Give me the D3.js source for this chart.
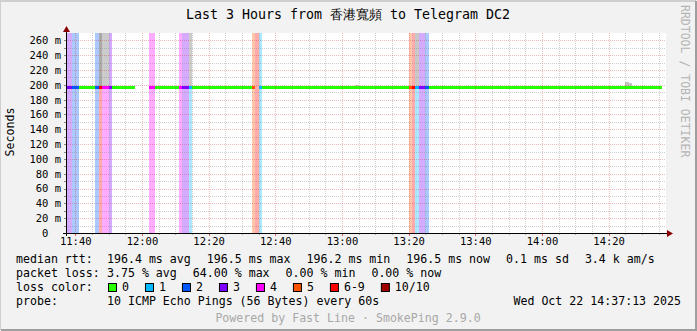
<!DOCTYPE html>
<html>
<head>
<meta charset="utf-8">
<script src="https://cdn.jsdelivr.net/npm/d3@7"></script>
<style>
  body { margin: 0; background: #f2f2f2; }
  text { font-family: "DejaVu Sans Mono", monospace; white-space: pre; }
</style>
</head>
<body>
<svg id="chart" width="697" height="331"></svg>
<script>
// --- data (one value per 60s step, first step starts 11:37) ---
var graphStart = new Date(2025, 9, 22, 11, 37, 13);
var graphEnd = new Date(2025, 9, 22, 14, 37, 13);
var firstStep = new Date(2025, 9, 22, 11, 37, 0);

var medianRtt = [
  196.3, 196.4, 196.5, 196.5, 196.5, 196.5, 196.4, 196.5, 196.5, 196.5, 196.4, 196.5, 196.5, 196.4, 196.5, 196.5, 196.5, 196.4, 196.4, 196.5,
  196.5, null,  null,  null,  null,  196.5, 196.5, 196.5, 196.4, 196.5, 196.4, 196.5, 196.5, 196.4, 196.5, 196.4, 196.4, 196.5, 196.5, 196.5,
  196.5, 196.5, 196.5, 196.5, 196.5, 196.5, 196.5, 196.5, 196.5, 196.5, 196.5, 196.5, 196.4, 196.5, 196.5, 196.5, 196.5, null,  196.5, 196.5,
  196.5, 196.5, 196.5, 196.5, 196.5, 196.5, 196.5, 196.5, 196.5, 196.5, 196.5, 196.5, 196.5, 196.5, 196.5, 196.5, 196.5, 196.5, 196.5, 196.5,
  196.5, 196.5, 196.5, 196.5, 196.5, 196.5, 196.5, 196.5, 196.2, 196.5, 196.5, 196.5, 196.5, 196.5, 196.5, 196.5, 196.5, 196.5, 196.5, 196.5,
  196.5, 196.5, 196.5, 196.5, 196.5, 196.5, 196.5, 196.5, 196.5, 196.5, 196.5, 196.5, 196.5, 196.5, 196.5, 196.5, 196.5, 196.5, 196.5, 196.5,
  196.5, 196.5, 196.5, 196.5, 196.2, 196.5, 196.5, 196.5, 196.5, 196.5, 196.5, 196.5, 196.5, 196.5, 196.5, 196.2, 196.5, 196.5, 196.5, 196.5,
  196.5, 196.5, 196.5, 196.5, 196.2, 196.5, 196.5, 196.5, 196.5, 196.5, 196.5, 196.5, 196.5, 196.5, 196.5, 196.5, 196.2, 196.5, 196.5, 196.5,
  196.2, 196.5, 196.5, 196.5, 196.2, 196.5, 196.5, 196.5, 196.5, 196.5, 196.5, 196.5, 196.5, 196.5, 196.5, 196.5, 196.5, 196.5, 196.5, null
];

// lost pings out of 10 for each step (null = no data)
var lossCount = [
  3, 3, 2, 2, 0, 0, 0, 0, 0, 2, 7, 4, 4, 3, 0, 0, 0, 0, 0, 0,
  0, null, null, null, null, 4, 4, 0, 0, 0, 0, 0, 0, 0, 4, 3, 3, 1, 0, 0,
  0, 0, 0, 0, 0, 0, 0, 0, 0, 0, 0, 0, 0, 0, 0, 0, 5, 7, 1, 0,
  0, 0, 0, 0, 0, 0, 0, 0, 0, 0, 0, 0, 0, 0, 0, 0, 0, 0, 0, 0,
  0, 0, 0, 0, 0, 0, 0, 0, 0, 0, 0, 0, 0, 0, 0, 0, 0, 0, 0, 0,
  0, 0, 0, 5, 7, 1, 3, 3, 2, 0, 0, 0, 0, 0, 0, 0, 0, 0, 0, 0,
  0, 0, 0, 0, 0, 0, 0, 0, 0, 0, 0, 0, 0, 0, 0, 0, 0, 0, 0, 0,
  0, 0, 0, 0, 0, 0, 0, 0, 0, 0, 0, 0, 0, 0, 0, 0, 0, 0, 0, 0,
  0, 0, 0, 0, 0, 0, 0, 0, 0, 0, 0, 0, 0, 0, 0, 0, 0, 0, 0, null
];

// smoke (spread of the single pings) where it is visible: step, low ms, high ms, shade
var smokeStep = [10, 11, 12, 37, 43, 44, 45, 87, 105, 168, 169];
var smokeLow  = [196.5, 196.5, 196.5, 196.5, 196.5, 196.5, 196.5, 196.5, 196.5, 196.5, 196.5];
var smokeHigh = [400, 400, 400, 400, 199, 199, 199, 199.5, 400, 204, 202];
var smokeShade = ['#a9a9a9', '#cbcbcb', '#cbcbcb', '#cbcbcb', '#cfcfcf', '#cfcfcf', '#cfcfcf', '#cfcfcf', '#c8c8c8', '#c4c4c4', '#c4c4c4'];

var yTicks = [0, 20, 40, 60, 80, 100, 120, 140, 160, 180, 200, 220, 240, 260];
var xTickLabels = ['11:40', '12:00', '12:20', '12:40', '13:00', '13:20', '13:40', '14:00', '14:20'];

var lossNames = ['0', '1', '2', '3', '4', '5', '6-9', '10/10'];
var lossColors = ['#26ff00', '#00b8ff', '#0059ff', '#7e00ff', '#ff00ff', '#ff5500', '#ff0000', '#a10000'];

var rttLegend = ['196.4 ms avg', '196.5 ms max', '196.2 ms min', '196.5 ms now', '0.1 ms sd', '3.4 k am/s'];
var lossLegend = ['3.75 % avg', '64.00 % max', '0.00 % min', '0.00 % now'];
var probeText = '10 ICMP Echo Pings (56 Bytes) every 60s';
var dateText = 'Wed Oct 22 14:37:13 2025';

// --- drawing ---
var width = 697, height = 331;
var plot = { left: 66, right: 666, top: 33, bottom: 233 };
var svg = d3.select('#chart');

function lossIndex(n) {
    if (n >= 10) return 7;
    if (n >= 6) return 6;
    return n;
}
function stepTime(i) { return d3.timeMinute.offset(firstStep, i); }

var xScale = d3.scaleTime()
                .domain([graphStart, graphEnd])
                .range([plot.left, plot.right]);
var yScale = d3.scaleLinear()
                .domain([0, 270])
                .range([plot.bottom, plot.top]);

// background and frame
svg.append('rect').attr('width', width).attr('height', height).attr('fill', '#f2f2f2');
svg.append('path').attr('d', `M0,${height - 1} V1 H${width - 1}`)
    .attr('stroke', '#cfcfcf').attr('stroke-width', 2).attr('fill', 'none');
svg.append('path').attr('d', `M1,${height - 1} H${width - 1} V1`)
    .attr('stroke', '#9e9e9e').attr('stroke-width', 2).attr('fill', 'none');

svg.append('rect')
    .attr('x', plot.left).attr('y', plot.top)
    .attr('width', plot.right - plot.left).attr('height', plot.bottom - plot.top)
    .attr('fill', '#ffffff');

svg.append('clipPath').attr('id', 'plot-clip')
    .append('rect')
    .attr('x', plot.left).attr('y', plot.top)
    .attr('width', plot.right - plot.left).attr('height', plot.bottom - plot.top);

var area = svg.append('g').attr('clip-path', 'url(#plot-clip)');

var steps = medianRtt.map((v, i) => ({ i: i, t0: stepTime(i), t1: stepTime(i + 1), rtt: v, loss: lossCount[i] }));

// loss bars over full height
area.selectAll('.loss-bar')
    .data(steps.filter(d => d.loss > 0))
    .enter()
    .append('rect')
        .classed('loss-bar', true)
        .attr('x', d => xScale(d.t0))
        .attr('width', d => xScale(d.t1) - xScale(d.t0))
        .attr('y', plot.top)
        .attr('height', plot.bottom - plot.top)
        .attr('fill', d => lossColors[lossIndex(d.loss)])
        .attr('fill-opacity', 0.33)
        .attr('shape-rendering', 'crispEdges');

// smoke
var smoke = smokeStep.map((s, k) => ({ t0: stepTime(s), t1: stepTime(s + 1), lo: smokeLow[k], hi: smokeHigh[k], shade: smokeShade[k] }));
area.selectAll('.smoke')
    .data(smoke)
    .enter()
    .append('rect')
        .classed('smoke', true)
        .attr('x', d => xScale(d.t0))
        .attr('width', d => xScale(d.t1) - xScale(d.t0))
        .attr('y', d => yScale(d.hi))
        .attr('height', d => yScale(d.lo) - yScale(d.hi))
        .attr('fill', d => d.shade)
        .attr('shape-rendering', 'crispEdges');

// grid
var minorY = d3.range(10, 270, 10).filter(v => v % 20 !== 0);
var majorY = yTicks.filter(v => v > 0);
var minorX = d3.timeMinute.every(5).range(graphStart, graphEnd).filter(t => t.getMinutes() % 20 !== 0);
var majorX = d3.timeMinute.every(20).range(graphStart, graphEnd);

var grid = svg.append('g').attr('shape-rendering', 'crispEdges');
grid.selectAll('.hminor').data(minorY).enter().append('line')
    .attr('x1', plot.left).attr('x2', plot.right)
    .attr('y1', d => Math.round(yScale(d)) + 0.5).attr('y2', d => Math.round(yScale(d)) + 0.5)
    .attr('stroke', 'rgba(130,130,130,0.38)').attr('stroke-dasharray', '1,1');
grid.selectAll('.vminor').data(minorX).enter().append('line')
    .attr('x1', d => Math.round(xScale(d)) + 0.5).attr('x2', d => Math.round(xScale(d)) + 0.5)
    .attr('y1', plot.top).attr('y2', plot.bottom)
    .attr('stroke', 'rgba(130,130,130,0.38)').attr('stroke-dasharray', '1,1');
grid.selectAll('.hmajor').data(majorY).enter().append('line')
    .attr('x1', plot.left).attr('x2', plot.right)
    .attr('y1', d => Math.round(yScale(d)) + 0.5).attr('y2', d => Math.round(yScale(d)) + 0.5)
    .attr('stroke', 'rgba(200,30,30,0.3)').attr('stroke-dasharray', '1,1');
grid.selectAll('.vmajor').data(majorX).enter().append('line')
    .attr('x1', d => Math.round(xScale(d)) + 0.5).attr('x2', d => Math.round(xScale(d)) + 0.5)
    .attr('y1', plot.top).attr('y2', plot.bottom)
    .attr('stroke', 'rgba(200,30,30,0.3)').attr('stroke-dasharray', '1,1');

// median rtt, coloured by loss
area.selectAll('.median')
    .data(steps.filter(d => d.rtt !== null))
    .enter()
    .append('rect')
        .classed('median', true)
        .attr('x', d => xScale(d.t0))
        .attr('width', d => xScale(d.t1) - xScale(d.t0))
        .attr('y', d => yScale(d.rtt) - 1.5)
        .attr('height', 3)
        .attr('fill', d => lossColors[lossIndex(d.loss)])
        .attr('shape-rendering', 'crispEdges');

// axes
var xAxis = d3.axisBottom(xScale)
                .tickValues(xTickLabels.map(s => new Date(2025, 9, 22, +s.slice(0, 2), +s.slice(3))))
                .tickFormat(d3.timeFormat('%H:%M'))
                .tickSize(0).tickPadding(5);
var gx = svg.append('g')
    .attr('transform', `translate(0, ${plot.bottom})`)
    .call(xAxis);
gx.select('.domain').remove();
gx.selectAll('text').style('font-size', '10.5px').style('font-family', '"DejaVu Sans Mono", monospace').attr('fill', '#000');

var yAxis = d3.axisLeft(yScale)
                .tickValues(yTicks)
                .tickFormat(d => d === 0 ? '0\u00a0\u00a0' : d + '\u00a0m')
                .tickSize(0).tickPadding(5);
var gy = svg.append('g')
    .attr('transform', `translate(${plot.left}, 0)`)
    .call(yAxis);
gy.select('.domain').remove();
gy.selectAll('text').style('font-size', '10.5px').style('font-family', '"DejaVu Sans Mono", monospace').attr('fill', '#000');

// small tick marks on the axes
var ticks = svg.append('g').attr('shape-rendering', 'crispEdges');
ticks.selectAll('.tx').data(minorX.concat(majorX)).enter().append('line')
    .attr('x1', d => Math.round(xScale(d)) + 0.5).attr('x2', d => Math.round(xScale(d)) + 0.5)
    .attr('y1', plot.bottom).attr('y2', d => d.getMinutes() % 20 === 0 ? plot.bottom + 3 : plot.bottom + 2)
    .attr('stroke', d => d.getMinutes() % 20 === 0 ? 'rgba(210,0,0,0.6)' : 'rgba(120,120,120,0.6)');
ticks.selectAll('.ty').data(minorY.concat(majorY)).enter().append('line')
    .attr('x1', plot.left - 2).attr('x2', plot.left)
    .attr('y1', d => Math.round(yScale(d)) + 0.5).attr('y2', d => Math.round(yScale(d)) + 0.5)
    .attr('stroke', 'rgba(90,90,90,0.7)');

svg.append('line')
    .attr('x1', plot.left - 3).attr('x2', plot.right + 2)
    .attr('y1', plot.bottom + 0.5).attr('y2', plot.bottom + 0.5)
    .attr('stroke', '#000').attr('shape-rendering', 'crispEdges');
svg.append('line')
    .attr('x1', plot.left + 0.5).attr('x2', plot.left + 0.5)
    .attr('y1', plot.bottom + 3).attr('y2', plot.top - 2)
    .attr('stroke', '#000').attr('shape-rendering', 'crispEdges');
svg.append('path')
    .attr('d', `M${plot.right + 1},${plot.bottom - 3} L${plot.right + 7},${plot.bottom + 0.5} L${plot.right + 1},${plot.bottom + 4} Z`)
    .attr('fill', '#8b0000');
svg.append('path')
    .attr('d', `M${plot.left - 3},${plot.top - 1} L${plot.left + 0.5},${plot.top - 7} L${plot.left + 4},${plot.top - 1} Z`)
    .attr('fill', '#8b0000');

// titles
svg.append('text')
    .attr('x', 348).attr('y', 19)
    .style('font-size', '13.3px')
    .style('text-anchor', 'middle')
    .text('Last 3 Hours from 香港寬頻 to Telegram DC2');

svg.append('text')
    .attr('transform', 'rotate(-90)')
    .attr('x', -132).attr('y', 14)
    .style('font-size', '11.6px')
    .style('text-anchor', 'middle')
    .text('Seconds');

svg.append('text')
    .attr('transform', 'rotate(90)')
    .attr('x', 5).attr('y', -681)
    .style('font-size', '11.5px')
    .attr('fill', '#b4b4b4')
    .text('RRDTOOL / TOBI OETIKER');

// legend
var legend = svg.append('g').style('font-size', '11.6px');
var rowY = [263, 277, 291, 305];
var gap = 16;

function flowRow(items, y) {
    var x = 107;
    items.forEach(s => {
        var t = legend.append('text').attr('x', x).attr('y', y).text(s);
        x += t.node().getComputedTextLength() + gap;
    });
}

legend.append('text').attr('x', 16).attr('y', rowY[0]).text('median rtt:');
flowRow(rttLegend, rowY[0]);
legend.append('text').attr('x', 16).attr('y', rowY[1]).text('packet loss:');
flowRow(lossLegend, rowY[1]);
legend.append('text').attr('x', 16).attr('y', rowY[2]).text('loss color:');

var bx = 108;
lossNames.forEach((name, i) => {
    legend.append('rect')
        .attr('x', bx + 0.5).attr('y', rowY[2] - 7.5)
        .attr('width', 8).attr('height', 8)
        .attr('fill', lossColors[i])
        .attr('stroke', '#000');
    var t = legend.append('text').attr('x', bx + 14).attr('y', rowY[2]).text(name);
    bx += 14 + t.node().getComputedTextLength() + gap;
});

legend.append('text').attr('x', 16).attr('y', rowY[3]).text('probe:');
legend.append('text').attr('x', 107).attr('y', rowY[3]).text(probeText);
legend.append('text').attr('x', 681).attr('y', rowY[3]).style('text-anchor', 'end').text(dateText);

svg.append('text')
    .attr('x', 348).attr('y', 322)
    .style('font-size', '11.6px')
    .style('text-anchor', 'middle')
    .attr('fill', '#a8a8a8')
    .text('Powered by Fast Line · SmokePing 2.9.0');
</script>
</body>
</html>
